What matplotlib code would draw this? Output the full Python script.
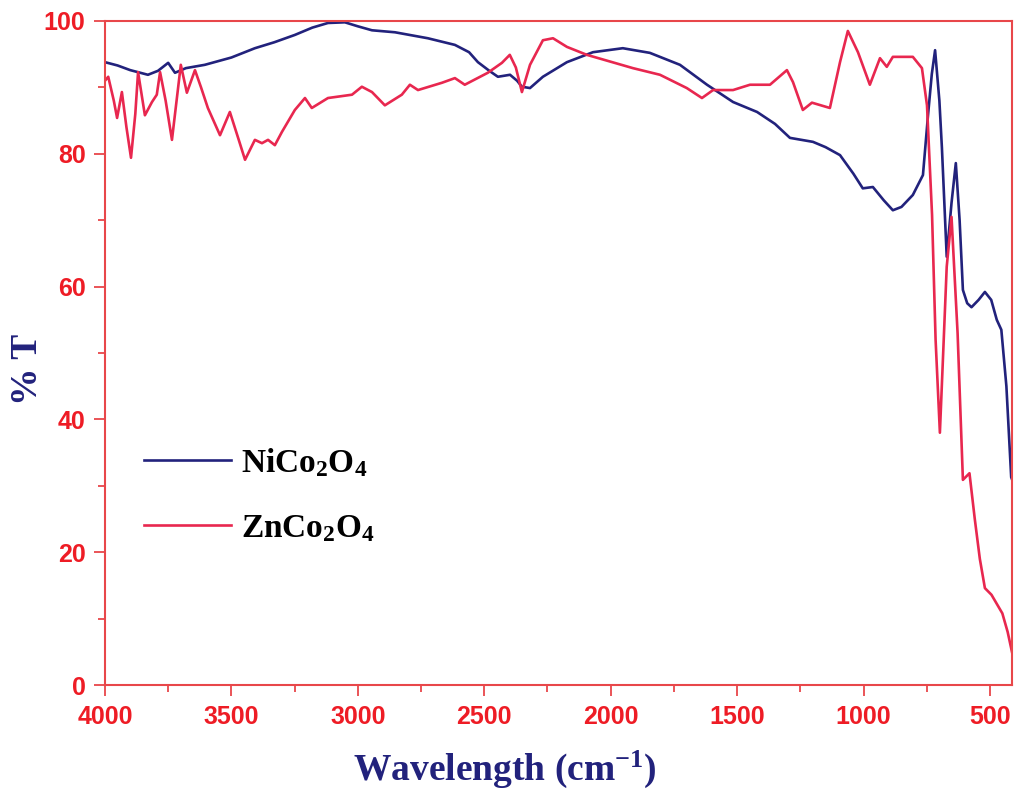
import matplotlib
matplotlib.use("Agg")
import matplotlib.pyplot as plt
from matplotlib.ticker import MultipleLocator

# FTIR spectra (wavenumber, %T)
ni_x = [4000, 3950, 3900, 3860, 3830, 3790, 3750, 3723, 3680, 3605, 3500, 3407,
        3330, 3249, 3180, 3118, 3051, 3000, 2944, 2853, 2723, 2616, 2560, 2525,
        2480, 2446, 2398, 2370, 2351, 2319, 2268, 2173, 2070, 1952, 1845, 1726,
        1619, 1516, 1421, 1350, 1291, 1200, 1150, 1093, 1040, 1003, 963, 920,
        884, 850, 805, 765, 745, 730, 717, 700, 690, 671, 652, 635, 620, 607,
        590, 573, 545, 520, 495, 473, 455, 435, 416, 413]
ni_y = [93.8, 93.3, 92.6, 92.2, 91.9, 92.5, 93.7, 92.2, 92.9, 93.4, 94.5, 95.9,
        96.8, 97.9, 99.0, 99.7, 99.8, 99.2, 98.6, 98.3, 97.4, 96.4, 95.3, 93.8,
        92.5, 91.6, 91.9, 91.0, 90.1, 89.9, 91.6, 93.8, 95.3, 95.9, 95.2, 93.4,
        90.4, 87.8, 86.3, 84.5, 82.4, 81.8, 81.0, 79.8, 77.0, 74.8, 75.0, 73.0,
        71.5, 72.0, 73.8, 76.8, 85.8, 92.0, 95.6, 88.0, 80.9, 64.5, 72.6, 78.6,
        70.0, 59.5, 57.5, 56.9, 58.0, 59.2, 58.0, 55.0, 53.5, 45.0, 31.3, 31.0]

zn_x = [4000, 3987, 3965, 3952, 3933, 3915, 3897, 3880, 3869, 3842, 3814, 3795,
        3782, 3760, 3735, 3700, 3676, 3644, 3620, 3593, 3545, 3506, 3470, 3446,
        3407, 3379, 3355, 3328, 3300, 3249, 3209, 3182, 3118, 3023, 2984, 2944,
        2893, 2826, 2794, 2762, 2667, 2616, 2577, 2486, 2430, 2399, 2375, 2351,
        2319, 2268, 2228, 2173, 2094, 1912, 1805, 1699, 1639, 1595, 1516, 1449,
        1370, 1303, 1279, 1240, 1204, 1133, 1093, 1062, 1022, 975, 935, 908,
        884, 805, 769, 749, 729, 715, 698, 685, 671, 652, 628, 607, 581, 560,
        540, 520, 494, 451, 430, 413]
zn_y = [91.0, 91.6, 88.0, 85.4, 89.3, 84.0, 79.4, 86.0, 92.3, 85.8, 87.8, 88.9,
        92.3, 88.0, 82.1, 93.4, 89.2, 92.6, 90.0, 86.9, 82.8, 86.3, 82.0, 79.1,
        82.1, 81.6, 82.1, 81.3, 83.3, 86.6, 88.4, 86.9, 88.4, 88.9, 90.1, 89.3,
        87.3, 88.9, 90.4, 89.6, 90.7, 91.4, 90.4, 92.2, 93.7, 94.9, 93.0, 89.3,
        93.4, 97.1, 97.4, 96.1, 94.9, 92.9, 91.9, 89.9, 88.4, 89.6, 89.6, 90.4,
        90.4, 92.6, 90.8, 86.6, 87.7, 86.9, 93.8, 98.5, 95.3, 90.4, 94.4, 93.1,
        94.6, 94.6, 92.9, 87.3, 70.8, 52.0, 38.0, 50.0, 63.0, 70.5, 53.0, 30.9,
        31.9, 25.0, 19.0, 14.6, 13.6, 10.8, 8.0, 5.0]

navy = "#22227c"
red = "#e8274f"
axis_red = "#ee1c25"

plt.rcParams['mathtext.fontset'] = 'custom'
plt.rcParams['mathtext.rm'] = 'Liberation Serif:bold'
plt.rcParams['mathtext.bf'] = 'Liberation Serif:bold'
plt.rcParams['mathtext.it'] = 'Liberation Serif:bold'

fig = plt.figure(figsize=(10.15, 7.92), dpi=100)
ax = fig.add_axes([0.1034, 0.135, 0.8936, 0.8385])

ax.plot(ni_x, ni_y, color=navy, lw=1.9, label=r'$\mathbf{NiCo_2O_4}$')
ax.plot(zn_x, zn_y, color=red, lw=1.9, label=r'$\mathbf{ZnCo_2O_4}$')

ax.set_xlim(4000, 413)
ax.set_ylim(0, 100)
ax.xaxis.set_major_locator(MultipleLocator(500))
ax.xaxis.set_minor_locator(MultipleLocator(250))
ax.yaxis.set_major_locator(MultipleLocator(20))
ax.yaxis.set_minor_locator(MultipleLocator(10))

for s in ax.spines.values():
    s.set_color("#e8474a")
    s.set_linewidth(1.5)
ax.tick_params(which='both', direction='out', color="#e8474a", width=1.3)
ax.tick_params(which='major', length=8, labelsize=18, labelcolor=axis_red, pad=6)
ax.tick_params(which='minor', length=5)
for lab in ax.get_xticklabels() + ax.get_yticklabels():
    lab.set_fontfamily('Liberation Sans')
    lab.set_fontweight('bold')

ax.set_xlabel(r'Wavelength (cm$^{-1}$)', fontsize=27, fontweight='bold',
              family='Liberation Serif', color=navy)
ax.xaxis.set_label_coords(0.441, -0.095)
ax.set_ylabel('% T', fontsize=27, fontweight='bold',
              family='Liberation Serif', color=navy)
ax.yaxis.set_label_coords(-0.066, 0.475)

ax.legend(loc='upper left', bbox_to_anchor=(0.01, 0.405), frameon=False,
          fontsize=24, handlelength=2.6, handletextpad=0.3, labelspacing=0.95)

fig.savefig("out.png", dpi=100)
